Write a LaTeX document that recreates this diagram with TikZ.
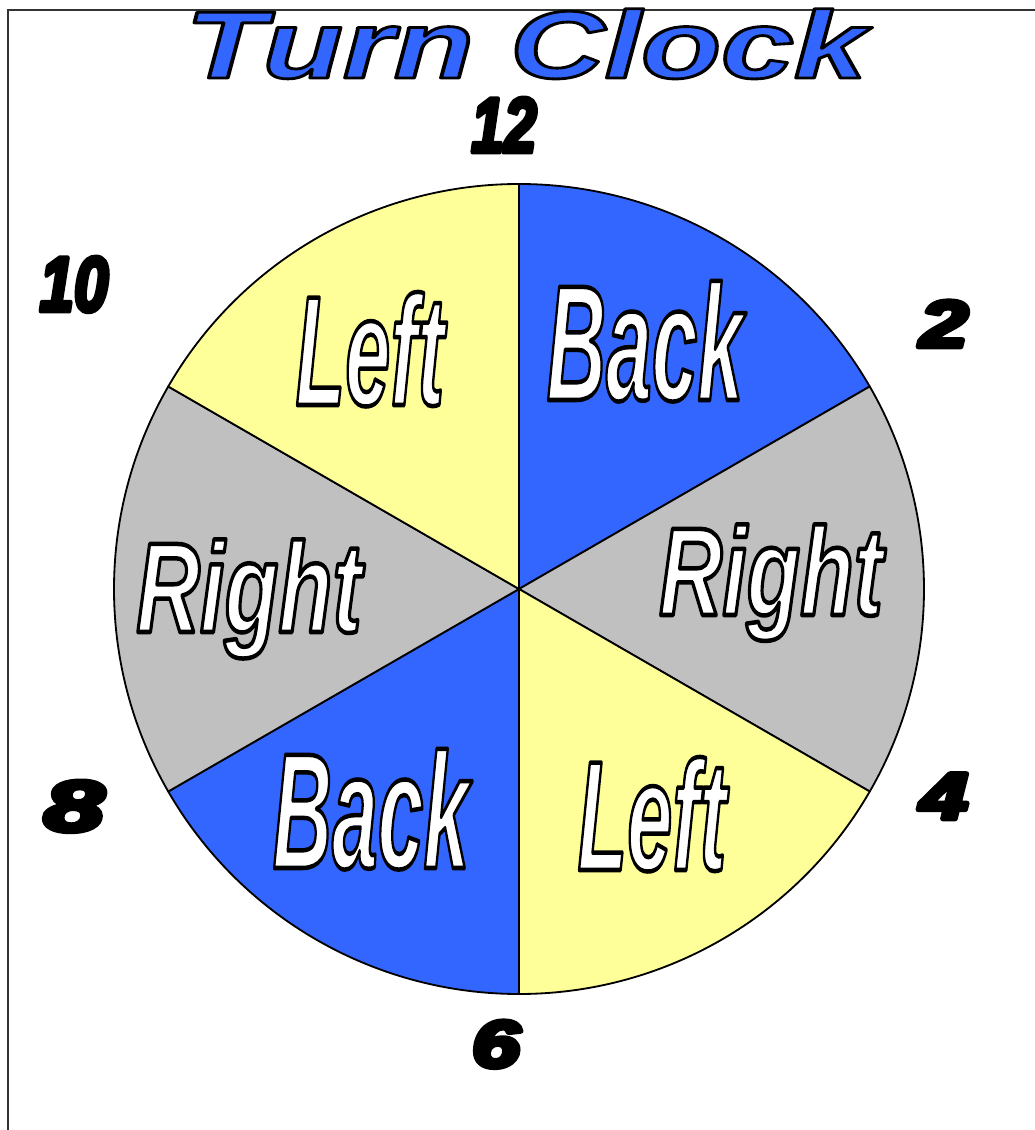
\documentclass[tikz,border=0pt]{standalone}
\usepackage{fontspec}
\setmainfont{Liberation Sans}
\usepackage{graphicx}
\definecolor{clockblue}{HTML}{3366FF}
\definecolor{clockyellow}{HTML}{FFFF99}
\definecolor{clockgray}{HTML}{C0C0C0}
% text filled in the current colour and stroked in black
\newcommand{\rimtext}[2]{\special{pdf:literal direct 0 G #1 w 1 j 2 Tr}#2\special{pdf:literal direct 0 Tr}}

\begin{document}
\begin{tikzpicture}[
  x=0.25mm,y=0.25mm,
  sector/.style={draw=black,line width=1.3pt,line join=round},
  word/.style={text=white,anchor=base,inner sep=0pt},
  hour/.style={text=black,anchor=base,inner sep=0pt}
]
  \useasboundingbox (-519,-541) rectangle (515,589);
  % frame, only the left and top edges show
  \draw[line width=0.8pt,black!80] (-511,-560) |- (530,579);

  % title
  \node[anchor=base,inner sep=0pt,text=clockblue] (title) at (7,511)
    {\raisebox{0pt}[\height][0pt]{\scalebox{1.37}[1]{\fontsize{68}{68}\selectfont\bfseries\itshape
     \rimtext{2}{Turn Clock}}}};

  % the dial: six sectors of 60 degrees
  \coordinate (c) at (0,0);
  \coordinate (p90) at (90:405);
  \coordinate (p30) at (30:405);
  \coordinate (pm30) at (-30:405);
  \coordinate (pm90) at (-90:405);
  \coordinate (p210) at (210:405);
  \coordinate (p150) at (150:405);
  \filldraw[sector,fill=clockblue] (c) -- (p90)
    arc[start angle=90,end angle=30,radius=405] -- cycle;
  \filldraw[sector,fill=clockgray] (c) -- (p30)
    arc[start angle=30,end angle=-30,radius=405] -- cycle;
  \filldraw[sector,fill=clockyellow] (c) -- (pm30)
    arc[start angle=-30,end angle=-90,radius=405] -- cycle;
  \filldraw[sector,fill=clockblue] (c) -- (pm90)
    arc[start angle=270,end angle=210,radius=405] -- cycle;
  \filldraw[sector,fill=clockgray] (c) -- (p210)
    arc[start angle=210,end angle=150,radius=405] -- cycle;
  \filldraw[sector,fill=clockyellow] (c) -- (p150)
    arc[start angle=150,end angle=90,radius=405] -- cycle;

  % words in the sectors
  \node[word] (lefttop) at (-149,184)
    {\scalebox{0.52}[1]{\fontsize{111}{111}\selectfont\bfseries\itshape\rimtext{3.2}{Left}}};
  \node[word] (backtop) at (126,189)
    {\scalebox{0.5}[1]{\fontsize{117}{117}\selectfont\bfseries\itshape\rimtext{3.2}{Back}}};
  \node[word] (rightr) at (252,-26)
    {\scalebox{0.7}[1]{\fontsize{89}{89}\selectfont\bfseries\itshape\rimtext{3.2}{Right}}};
  \node[word] (rightl) at (-270,-43)
    {\scalebox{0.69}[1]{\fontsize{91}{91}\selectfont\bfseries\itshape\rimtext{3.2}{Right}}};
  \node[word] (backbot) at (-148,-279)
    {\scalebox{0.5}[1]{\fontsize{117}{117}\selectfont\bfseries\itshape\rimtext{3.2}{Back}}};
  \node[word] (leftbot) at (133,-281)
    {\scalebox{0.52}[1]{\fontsize{111}{111}\selectfont\bfseries\itshape\rimtext{3.2}{Left}}};

  % hours round the dial
  \node[hour] (h12) at (-15,437)
    {\scalebox{0.76}[1]{\fontsize{55}{55}\selectfont\bfseries\itshape\rimtext{3.5}{12}}};
  \node[hour] (h10) at (-445,278)
    {\scalebox{0.8}[1]{\fontsize{55}{55}\selectfont\bfseries\itshape\rimtext{3.5}{10}}};
  \node[hour] (h2) at (425,242)
    {\scalebox{1.3}[1]{\fontsize{47}{47}\selectfont\bfseries\itshape\rimtext{3.5}{2}}};
  \node[hour] (h4) at (425,-230)
    {\scalebox{1.3}[1]{\fontsize{47}{47}\selectfont\bfseries\itshape\rimtext{3.5}{4}}};
  \node[hour] (h6) at (-23,-478)
    {\scalebox{1.3}[1]{\fontsize{47}{47}\selectfont\bfseries\itshape\rimtext{3.5}{6}}};
  \node[hour] (h8) at (-445,-242)
    {\scalebox{1.5}[1]{\fontsize{51}{51}\selectfont\bfseries\itshape\rimtext{3.5}{8}}};
\end{tikzpicture}
\end{document}
